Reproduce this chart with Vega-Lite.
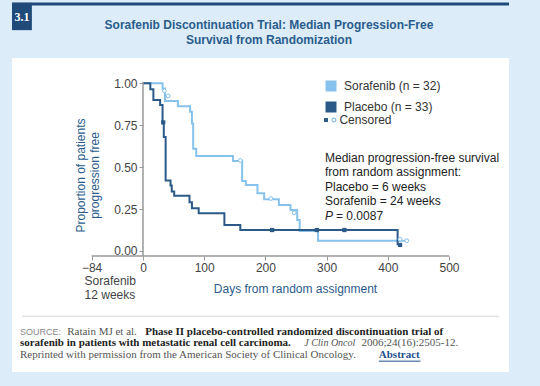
{
  "$schema": "https://vega.github.io/schema/vega-lite/v6.json",
  "background": "#dcecf8",
  "padding": {"left": 10, "top": 0, "right": 33, "bottom": 14},
  "spacing": 0,
  "bounds": "flush",
  "resolve": {"scale": {"x": "independent", "y": "independent"}},
  "config": {"view": {"stroke": null}, "font": "Liberation Sans", "concat": {"spacing": 0}},
  "datasets": {
    "km": [
      {"group": "Sorafenib (n = 32)", "day": 0, "s": 1.0},
      {"group": "Sorafenib (n = 32)", "day": 32, "s": 0.969},
      {"group": "Sorafenib (n = 32)", "day": 36, "s": 0.894},
      {"group": "Sorafenib (n = 32)", "day": 57, "s": 0.863},
      {"group": "Sorafenib (n = 32)", "day": 77, "s": 0.83},
      {"group": "Sorafenib (n = 32)", "day": 80, "s": 0.76},
      {"group": "Sorafenib (n = 32)", "day": 82, "s": 0.61},
      {"group": "Sorafenib (n = 32)", "day": 87, "s": 0.567},
      {"group": "Sorafenib (n = 32)", "day": 147, "s": 0.536},
      {"group": "Sorafenib (n = 32)", "day": 162, "s": 0.417},
      {"group": "Sorafenib (n = 32)", "day": 168, "s": 0.394},
      {"group": "Sorafenib (n = 32)", "day": 187, "s": 0.344},
      {"group": "Sorafenib (n = 32)", "day": 198, "s": 0.308},
      {"group": "Sorafenib (n = 32)", "day": 222, "s": 0.274},
      {"group": "Sorafenib (n = 32)", "day": 241, "s": 0.244},
      {"group": "Sorafenib (n = 32)", "day": 252, "s": 0.185},
      {"group": "Sorafenib (n = 32)", "day": 256, "s": 0.119},
      {"group": "Sorafenib (n = 32)", "day": 286, "s": 0.061},
      {"group": "Sorafenib (n = 32)", "day": 431, "s": 0.061},
      {"group": "Placebo (n = 33)", "day": 0, "s": 1.0},
      {"group": "Placebo (n = 33)", "day": 12, "s": 0.965},
      {"group": "Placebo (n = 33)", "day": 17, "s": 0.9},
      {"group": "Placebo (n = 33)", "day": 28, "s": 0.87},
      {"group": "Placebo (n = 33)", "day": 32, "s": 0.77},
      {"group": "Placebo (n = 33)", "day": 34, "s": 0.68},
      {"group": "Placebo (n = 33)", "day": 37, "s": 0.42},
      {"group": "Placebo (n = 33)", "day": 45, "s": 0.39},
      {"group": "Placebo (n = 33)", "day": 47, "s": 0.355},
      {"group": "Placebo (n = 33)", "day": 51, "s": 0.33},
      {"group": "Placebo (n = 33)", "day": 76, "s": 0.29},
      {"group": "Placebo (n = 33)", "day": 80, "s": 0.255},
      {"group": "Placebo (n = 33)", "day": 91, "s": 0.225},
      {"group": "Placebo (n = 33)", "day": 133, "s": 0.155},
      {"group": "Placebo (n = 33)", "day": 159, "s": 0.125},
      {"group": "Placebo (n = 33)", "day": 416, "s": 0.04},
      {"group": "Placebo (n = 33)", "day": 420, "s": 0.04}
    ],
    "censor": [
      {"group": "Sorafenib (n = 32)", "day": 35, "s": 0.955},
      {"group": "Sorafenib (n = 32)", "day": 41, "s": 0.925},
      {"group": "Sorafenib (n = 32)", "day": 159, "s": 0.54},
      {"group": "Sorafenib (n = 32)", "day": 209, "s": 0.313},
      {"group": "Sorafenib (n = 32)", "day": 247, "s": 0.228},
      {"group": "Sorafenib (n = 32)", "day": 420, "s": 0.07},
      {"group": "Sorafenib (n = 32)", "day": 431, "s": 0.061},
      {"group": "Placebo (n = 33)", "day": 33, "s": 0.767},
      {"group": "Placebo (n = 33)", "day": 211, "s": 0.125},
      {"group": "Placebo (n = 33)", "day": 284, "s": 0.125},
      {"group": "Placebo (n = 33)", "day": 329, "s": 0.125},
      {"group": "Placebo (n = 33)", "day": 420, "s": 0.036}
    ]
  },
  "vconcat": [
    {
      "width": 497,
      "height": 58,
      "data": {"values": [{}]},
      "layer": [
        {
          "mark": {"type": "rule", "color": "#1f4a7a", "strokeWidth": 3},
          "encoding": {
            "x": {"datum": 0, "type": "quantitative", "scale": {"domain": [0, 1], "nice": false, "zero": false}, "axis": null},
            "x2": {"datum": 1},
            "y": {"datum": 0.93, "type": "quantitative", "scale": {"domain": [0, 1], "nice": false, "zero": false}, "axis": null}
          }
        },
        {
          "mark": {"type": "rect", "color": "#1f4a7a"},
          "encoding": {"x": {"datum": 0}, "x2": {"datum": 0.04}, "y": {"datum": 0.95}, "y2": {"datum": 0.48}}
        },
        {
          "mark": {"type": "text", "text": "3.1", "color": "white", "font": "Liberation Serif", "fontWeight": "bold", "fontSize": 12, "baseline": "middle"},
          "encoding": {"x": {"datum": 0.02}, "y": {"datum": 0.71}}
        },
        {
          "mark": {"type": "text", "text": "Sorafenib Discontinuation Trial: Median Progression-Free", "color": "#2b5c8c", "font": "Liberation Sans", "fontWeight": "bold", "fontSize": 12, "baseline": "middle"},
          "encoding": {"x": {"datum": 0.517}, "y": {"datum": 0.57}}
        },
        {
          "mark": {"type": "text", "text": "Survival from Randomization", "color": "#2b5c8c", "font": "Liberation Sans", "fontWeight": "bold", "fontSize": 12, "baseline": "middle"},
          "encoding": {"x": {"datum": 0.517}, "y": {"datum": 0.31}}
        }
      ]
    },
    {
      "width": 497,
      "height": 252,
      "view": {"fill": "white", "stroke": null},
      "layer": [
        {
          "data": {"name": "km"},
          "mark": {"type": "line", "interpolate": "step-after", "strokeWidth": 2},
          "encoding": {
            "x": {
              "field": "day", "type": "quantitative",
              "scale": {"domain": [-214, 598], "nice": false, "zero": false},
              "axis": {"values": [-84, 0, 100, 200, 300, 400, 500], "offset": -54, "domain": false, "grid": false, "tickColor": "#999", "tickSize": 4, "labelColor": "#444", "labelFontSize": 12, "labelPadding": 2, "labelFlush": false, "title": "Days from random assignment", "titleColor": "#2b5c8c", "titleFontWeight": "normal", "titleFontSize": 12, "titlePadding": 10, "titleX": 283}
            },
            "y": {
              "field": "s", "type": "quantitative",
              "scale": {"domain": [-0.352, 1.151], "nice": false, "zero": false},
              "axis": {"values": [0, 0.25, 0.5, 0.75, 1], "format": ".2f", "offset": -131, "domain": false, "grid": false, "tickColor": "#999", "tickSize": 4, "labelColor": "#444", "labelFontSize": 12, "labelPadding": 2, "title": ["Proportion of patients", "progression free"], "titleColor": "#2b5c8c", "titleFontWeight": "normal", "titleFontSize": 12, "titlePadding": 12, "titleY": 117, "titleLineHeight": 14}
            },
            "color": {
              "field": "group", "type": "nominal",
              "scale": {"domain": ["Sorafenib (n = 32)", "Placebo (n = 33)"], "range": ["#86c2ec", "#2c5a88"]},
              "legend": {"orient": "none", "legendX": 313, "legendY": 80, "title": null, "symbolType": "square", "symbolSize": 121, "symbolStrokeWidth": 0, "labelFontSize": 12, "labelColor": "#333", "labelOffset": 7, "rowPadding": 9, "padding": 0,
                "encode": {"symbols": {"update": {"fill": {"scale": "color", "field": "value"}, "strokeWidth": {"value": 0}}}}}
            }
          }
        },
        {
          "data": {"name": "censor"},
          "transform": [{"filter": "datum.group === 'Sorafenib (n = 32)'"}],
          "mark": {"type": "point", "shape": "circle", "filled": true, "fill": "white", "stroke": "#86c2ec", "strokeWidth": 1, "size": 14, "opacity": 1},
          "encoding": {"x": {"field": "day", "type": "quantitative"}, "y": {"field": "s", "type": "quantitative"}}
        },
        {
          "data": {"name": "censor"},
          "transform": [{"filter": "datum.group === 'Placebo (n = 33)'"}],
          "mark": {"type": "square", "color": "#2c5a88", "size": 18, "opacity": 1},
          "encoding": {"x": {"field": "day", "type": "quantitative"}, "y": {"field": "s", "type": "quantitative"}}
        },
        {
          "data": {"values": [{}]},
          "mark": {"type": "rule", "color": "#999", "strokeWidth": 1.5},
          "encoding": {"x": {"datum": 0}, "y": {"datum": -0.03}, "y2": {"datum": 1.01}}
        },
        {
          "data": {"values": [{}]},
          "mark": {"type": "rule", "color": "#999", "strokeWidth": 1.5},
          "encoding": {"x": {"datum": -84}, "x2": {"datum": 500}, "y": {"datum": -0.03}}
        },
        {
          "data": {"values": [{}]},
          "mark": {"type": "text", "text": ["Sorafenib", "12 weeks"], "align": "left", "baseline": "top", "dx": -7, "fontSize": 12, "color": "#444", "lineHeight": 14},
          "encoding": {"x": {"datum": -84}, "y": {"datum": -0.149}}
        },
        {
          "data": {"values": [{}]},
          "mark": {"type": "text", "text": ["Median progression-free survival", "from random assignment:", "Placebo = 6 weeks", "Sorafenib = 24 weeks"], "align": "left", "baseline": "top", "fontSize": 12, "color": "#222", "lineHeight": 14.2},
          "encoding": {"x": {"datum": 297.4}, "y": {"datum": 0.583}}
        },
        {
          "data": {"values": [{}]},
          "mark": {"type": "text", "text": "P", "align": "left", "baseline": "middle", "fontSize": 12, "fontStyle": "italic", "color": "#222"},
          "encoding": {"x": {"datum": 297.4}, "y": {"datum": 0.209}}
        },
        {
          "data": {"values": [{}]},
          "mark": {"type": "text", "text": "= 0.0087", "align": "left", "baseline": "middle", "dx": 11, "fontSize": 12, "color": "#222"},
          "encoding": {"x": {"datum": 297.4}, "y": {"datum": 0.209}}
        },
        {
          "data": {"values": [{}]},
          "mark": {"type": "square", "color": "#2c5a88", "size": 16, "opacity": 1},
          "encoding": {"x": {"datum": 299}, "y": {"datum": 0.781}}
        },
        {
          "data": {"values": [{}]},
          "mark": {"type": "point", "shape": "circle", "filled": true, "fill": "white", "stroke": "#86c2ec", "strokeWidth": 1.2, "size": 14, "opacity": 1},
          "encoding": {"x": {"datum": 312}, "y": {"datum": 0.781}}
        },
        {
          "data": {"values": [{}]},
          "mark": {"type": "text", "text": "Censored", "align": "left", "baseline": "middle", "fontSize": 12, "color": "#333"},
          "encoding": {"x": {"datum": 321}, "y": {"datum": 0.781}}
        }
      ]
    },
    {
      "width": 497,
      "height": 62,
      "view": {"fill": "white", "stroke": null},
      "data": {"values": [{}]},
      "layer": [
        {
          "mark": {"type": "rule", "color": "#d5d5d5", "strokeWidth": 1},
          "encoding": {
            "x": {"datum": 0.02, "type": "quantitative", "scale": {"domain": [0, 1], "nice": false, "zero": false}, "axis": null},
            "x2": {"datum": 0.98},
            "y": {"datum": 0.9, "type": "quantitative", "scale": {"domain": [0, 1], "nice": false, "zero": false}, "axis": null}
          }
        },
        {
          "mark": {"type": "text", "text": "SOURCE:", "align": "left", "baseline": "middle", "font": "Liberation Sans", "fontSize": 9, "color": "#888"},
          "encoding": {"x": {"datum": 0.016}, "y": {"datum": 0.65}}
        },
        {
          "mark": {"type": "text", "text": "Ratain MJ et al.", "align": "left", "baseline": "middle", "font": "Liberation Serif", "fontSize": 11, "color": "#555"},
          "encoding": {"x": {"datum": 0.111}, "y": {"datum": 0.65}}
        },
        {
          "mark": {"type": "text", "text": "Phase II placebo-controlled randomized discontinuation trial of", "align": "left", "baseline": "middle", "font": "Liberation Serif", "fontWeight": "bold", "fontSize": 11, "color": "#222"},
          "encoding": {"x": {"datum": 0.268}, "y": {"datum": 0.65}}
        },
        {
          "mark": {"type": "text", "text": "sorafenib in patients with metastatic renal cell carcinoma.", "align": "left", "baseline": "middle", "font": "Liberation Serif", "fontWeight": "bold", "fontSize": 11, "color": "#222"},
          "encoding": {"x": {"datum": 0.016}, "y": {"datum": 0.468}}
        },
        {
          "mark": {"type": "text", "text": "J Clin Oncol", "align": "left", "baseline": "middle", "font": "Liberation Serif", "fontStyle": "italic", "fontSize": 10, "color": "#555"},
          "encoding": {"x": {"datum": 0.588}, "y": {"datum": 0.468}}
        },
        {
          "mark": {"type": "text", "text": "2006;24(16):2505-12.", "align": "left", "baseline": "middle", "font": "Liberation Serif", "fontSize": 11, "color": "#555"},
          "encoding": {"x": {"datum": 0.703}, "y": {"datum": 0.468}}
        },
        {
          "mark": {"type": "text", "text": "Reprinted with permission from the American Society of Clinical Oncology.", "align": "left", "baseline": "middle", "font": "Liberation Serif", "fontSize": 11, "color": "#555"},
          "encoding": {"x": {"datum": 0.016}, "y": {"datum": 0.28}}
        },
        {
          "mark": {"type": "text", "text": "Abstract", "align": "left", "baseline": "middle", "font": "Liberation Serif", "fontWeight": "bold", "fontSize": 11, "color": "#1f4f8f"},
          "encoding": {"x": {"datum": 0.738}, "y": {"datum": 0.28}}
        },
        {
          "mark": {"type": "rule", "color": "#1f4f8f", "strokeWidth": 1},
          "encoding": {"x": {"datum": 0.738}, "x2": {"datum": 0.822}, "y": {"datum": 0.175}}
        }
      ]
    }
  ]
}
